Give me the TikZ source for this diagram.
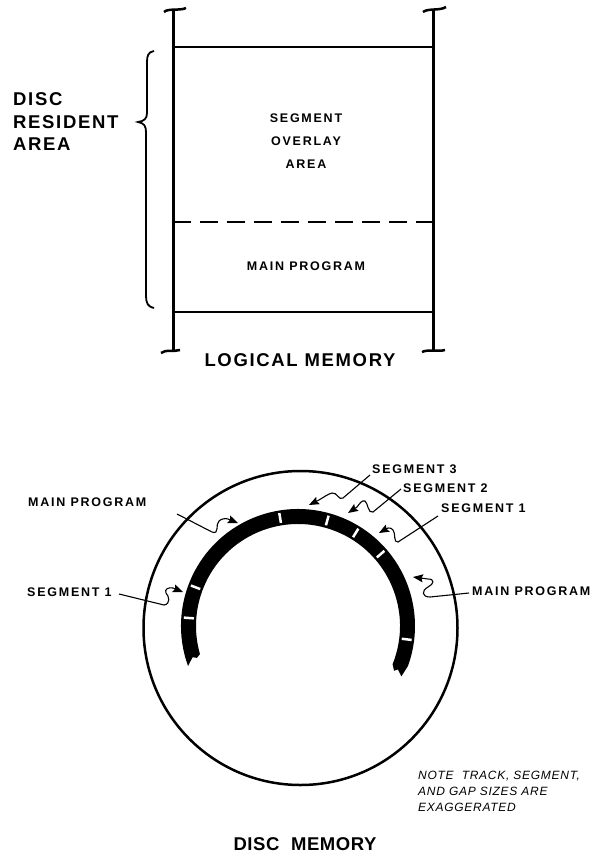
\documentclass[tikz,border=0pt]{standalone}
\usepackage{fontspec}
\setmainfont{Liberation Sans}
\newfontfamily\labfont[LetterSpace=14]{Liberation Sans}
\newfontfamily\bigfont[LetterSpace=9]{Liberation Sans}
\newfontfamily\dmfont[LetterSpace=3]{Liberation Sans}
\newfontfamily\notefont[LetterSpace=6]{Liberation Sans}
\usetikzlibrary{arrows.meta,calc}
\begin{document}
\begin{tikzpicture}[x=1pt,y=-1pt,
  lab/.style={font=\labfont\bfseries\fontsize{12.5}{15}\selectfont, inner sep=0pt},
  labm/.style={font=\labfont\bfseries\fontsize{12.5}{23}\selectfont, inner sep=0pt, align=center},
  big/.style={font=\bigfont\bfseries\fontsize{18.5}{22.5}\selectfont, inner sep=0pt},
  dmstyle/.style={font=\dmfont\bfseries\fontsize{18.5}{22.5}\selectfont, inner sep=0pt},
  notestyle/.style={font=\notefont\itshape\fontsize{12}{16}\selectfont, inner sep=0pt, align=left},
  rail/.style={line width=3pt},
  memline/.style={line width=2pt},
  serifline/.style={line width=2.5pt},
  leader/.style={line width=1.1pt, -{Stealth[length=10pt,width=8pt,inset=1.5pt]}},
  gapmark/.style={white, line width=2.5pt},
]
\useasboundingbox (0,0) rectangle (596,854);

% ---------- logical memory ----------
\coordinate (LT) at (173,9);  \coordinate (LB) at (173,352);
\coordinate (RT) at (433,9);  \coordinate (RB) at (433,352);
\coordinate (TL) at (173,47); \coordinate (TR) at (433,47);
\coordinate (BL) at (173,312); \coordinate (BR) at (433,312);
\coordinate (DL) at (173,222); \coordinate (DR) at (433,222);

\draw[rail] (LT) -- (LB);
\draw[rail] (RT) -- (RB);
\draw[serifline] (164,12) .. controls (168,8) and (180,11) .. (186,8);
\draw[serifline] (423,12) .. controls (428,8) and (440,11) .. (446,7);
\draw[serifline] (161,353) .. controls (166,349) and (174,352) .. (180,350);
\draw[serifline] (422,352) .. controls (428,349) and (438,352) .. (445,350);
\draw[memline] (TL) -- (TR);
\draw[memline] (BL) -- (BR);
\draw[memline, dash pattern=on 18pt off 9pt] (DL) -- (DR);

\draw[line width=1.8pt] (154,51) .. controls (148,52) and (147,56) .. (147,62)
  -- (147,113) .. controls (147,119) and (144,121) .. (138,122)
  .. controls (144,123) and (146,126) .. (146,132)
  -- (146,296) .. controls (146,303) and (148,307) .. (154,308);

\node[big, anchor=west, align=left] (dra) at (13,122) {DISC\\RESIDENT\\AREA};
\node[labm] (sov) at (306,141) {SEGMENT\\OVERLAY\\AREA};
\node[lab] (mpbox) at (306,266) {MAIN PROGRAM};
\node[big] (lm) at (300,360) {LOGICAL MEMORY};

% ---------- disc memory ----------
\coordinate (D) at (300.5,628);
\coordinate (T) at (298,626);
\draw[line width=2.5pt] (D) circle[radius=157];

\fill ($(T)+(-200:117)$) arc[start angle=-200, end angle=20, radius=117]
  -- ($(T)+(26:115)$) -- ($(T)+(23.5:109)$) -- ($(T)+(25:106)$) -- ($(T)+(22:102)$)
  arc[start angle=22, end angle=-196, radius=102]
  -- ($(T)+(-197.5:106)$) -- ($(T)+(-196.5:110)$) -- cycle;

\foreach \a in {-159.3,-175.8,-99.4,-74.5,-58.2,-41,7}
  \draw[gapmark] ($(T)+(\a:104.5)$) -- ($(T)+(\a:114.5)$);

% labels
\node[lab, anchor=west] (mpl) at (28,502) {MAIN PROGRAM};
\node[lab, anchor=west] (s1l) at (27,592) {SEGMENT 1};
\node[lab, anchor=west] (s3) at (372,469) {SEGMENT 3};
\node[lab, anchor=west] (s2) at (403,488) {SEGMENT 2};
\node[lab, anchor=west] (s1r) at (441,508) {SEGMENT 1};
\node[lab, anchor=west] (mpr) at (472,591) {MAIN PROGRAM};

% leader ends
\coordinate (mplS) at (177,514); \coordinate (mplT) at (238,523);
\coordinate (s1lS) at (119,594); \coordinate (s1lT) at (183,592);
\coordinate (s3S) at (370,475);  \coordinate (s3T) at (309,505);
\coordinate (s2S) at (401,489);  \coordinate (s2T) at (348,513);
\coordinate (s1rS) at (438,516); \coordinate (s1rT) at (379,533);
\coordinate (mprS) at (469,593); \coordinate (mprT) at (413,577);

\draw[leader] (mplS) -- (212,532) .. controls (220,535) and (215,524) .. (219,521)
  .. controls (221,519) and (225,518) .. (228,519) -- (mplT);
\draw[leader] (s1lS) -- (164,605) .. controls (171,604) and (169,596) .. (166,593)
  .. controls (164,589) and (169,587) .. (173,588) -- (s1lT);
\draw[leader] (s3S) -- (343,498) .. controls (339,501) and (337,492) .. (332,493)
  .. controls (328,494) and (324,497) .. (319,500) -- (s3T);
\draw[leader] (s2S) -- (373,512) .. controls (368,514) and (368,503) .. (365,501)
  .. controls (362,500) and (360,503) .. (357,507) -- (s2T);
\draw[leader] (s1rS) -- (398,542) .. controls (393,543) and (396,533) .. (393,530)
  .. controls (391,528) .. (388,528) -- (s1rT);
\draw[leader] (mprS) -- (430,597) .. controls (422,597) and (421,591) .. (428,587)
  .. controls (434,584) and (435,579) .. (428,579) -- (mprT);

\node[notestyle, anchor=west] (note) at (418,791) {NOTE\ \ TRACK, SEGMENT,\\AND GAP SIZES ARE\\EXAGGERATED};
\node[dmstyle] (dm) at (305,844) {DISC\hspace{6pt} MEMORY};
\end{tikzpicture}
\end{document}
